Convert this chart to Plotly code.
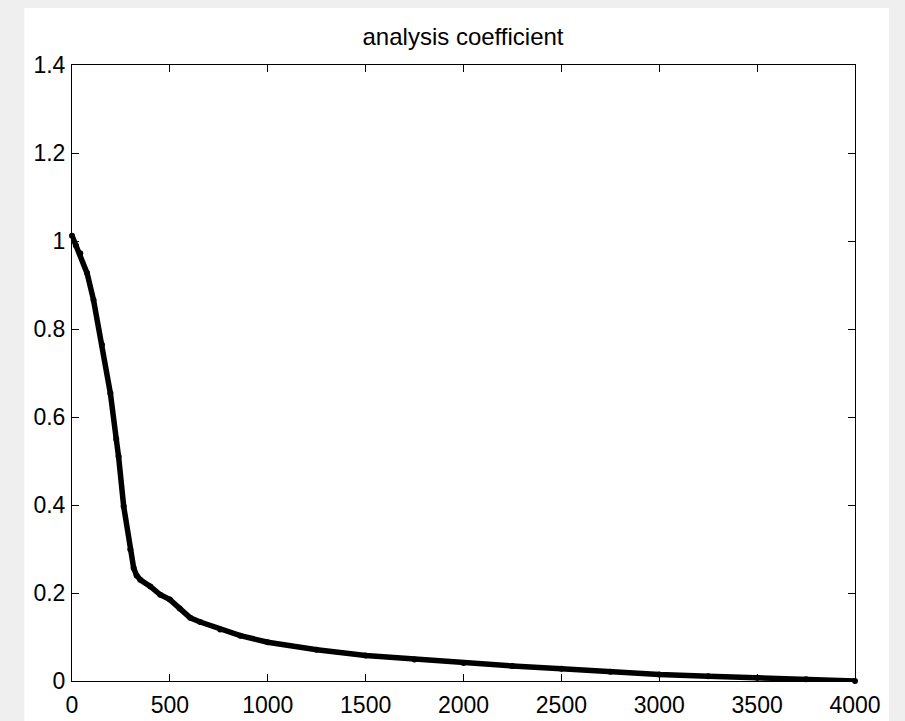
import plotly.graph_objects as go

# Data
x_index = [0, 20, 42, 77, 110, 153, 196, 226, 238, 264, 298, 315, 330, 349, 400,
           451, 500, 550, 604, 655, 757, 860, 1000, 1250, 1500, 1750, 2000, 2250,
           2500, 2750, 3000, 3250, 3500, 3750, 4000]
coef = [1.012, 0.99, 0.972, 0.927, 0.866, 0.764, 0.654, 0.55, 0.51, 0.397, 0.299,
        0.257, 0.24, 0.23, 0.215, 0.196, 0.185, 0.165, 0.1435, 0.134, 0.117, 0.103,
        0.088, 0.071, 0.058, 0.049, 0.041, 0.034, 0.028, 0.021, 0.0148, 0.011,
        0.0073, 0.004, 0.0]

x_ticks = [0, 500, 1000, 1500, 2000, 2500, 3000, 3500, 4000]
y_ticks = [0, 0.2, 0.4, 0.6, 0.8, 1.0, 1.2, 1.4]
y_tick_labels = ["0", "0.2", "0.4", "0.6", "0.8", "1", "1.2", "1.4"]

W, H = 905, 721
L, R, T, B = 71.7, 50, 65, 39.5
pw, ph = W - L - R, H - T - B

def px_to_paper_x(p):
    return (p - L) / pw

def px_to_paper_y(p):
    return (H - B - p) / ph

fig = go.Figure()
fig.add_trace(go.Scatter(
    x=x_index, y=coef, mode="lines+markers",
    line=dict(color="black", width=5.5),
    marker=dict(color="black", size=6),
    cliponaxis=False, showlegend=False,
))

font_family = "Liberation Sans, Arial, Helvetica, sans-serif"
axis_common = dict(
    showline=True, linecolor="black", linewidth=1, mirror="ticks",
    ticks="inside", ticklen=7, tickwidth=1, tickcolor="black",
    showgrid=False, zeroline=False, automargin=False,
    tickfont=dict(family=font_family, size=23, color="black"),
)

fig.update_layout(
    width=W, height=H, autosize=False,
    margin=dict(l=L, r=R, t=T, b=B, pad=0),
    paper_bgcolor="#efefef", plot_bgcolor="white",
    title=dict(text="analysis coefficient", x=px_to_paper_x(463) * pw / W + L / W,
               xanchor="center", y=1 - 37 / H, yanchor="middle",
               font=dict(family=font_family, size=24, color="black")),
    xaxis=dict(range=[0, 4000], tickvals=x_ticks, ticklabelstandoff=3, **axis_common),
    yaxis=dict(range=[0, 1.4], tickvals=y_ticks, ticktext=y_tick_labels,
               ticklabelstandoff=1, **axis_common),
    shapes=[dict(type="rect", xref="paper", yref="paper",
                 x0=px_to_paper_x(24), x1=px_to_paper_x(889),
                 y0=px_to_paper_y(730), y1=px_to_paper_y(8),
                 fillcolor="white", line=dict(width=0), layer="below")],
)

fig.write_html("out.html")
